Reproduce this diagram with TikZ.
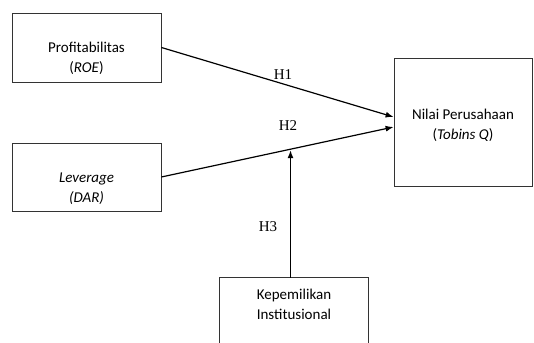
\documentclass[tikz,border=0pt]{standalone}
\usepackage{fontspec}
\setmainfont{Carlito}
\newfontfamily\hfont{Liberation Serif}
\usetikzlibrary{arrows.meta,calc}

\begin{document}
\begin{tikzpicture}[x=1pt, y=1pt,
    box/.style={rectangle, draw=black!80, line width=0.8pt},
    txt/.style={align=center, font=\fontsize{15}{20}\selectfont},
    arrow/.style={-{Latex[length=8pt,width=6pt]}, line width=1.2pt},
    hyp/.style={font=\hfont\fontsize{15}{18}\selectfont}
]
    \useasboundingbox (0,0) rectangle (534,342);
    \clip (0,0) rectangle (534,342);

    % Independent variables
    \node[box, minimum width=149, minimum height=69,
          label={[txt, yshift=-11pt]center:{Profitabilitas\\(\textit{ROE})}}] (prof) at (86.5,294.5) {};
    \node[box, minimum width=149, minimum height=68,
          label={[txt, yshift=-12pt]center:{\textit{Leverage}\\\textit{(DAR)}}}] (lev) at (86.5,165) {};

    % Dependent variable
    \node[box, minimum width=138, minimum height=128,
          label={[txt, yshift=-3pt]center:{Nilai Perusahaan\\(\textit{Tobins Q})}}] (nilai) at (463,220) {};

    % Moderating variable (box runs past the bottom edge)
    \node[txt, minimum width=148, minimum height=52] (kep) at (294,38) {Kepemilikan\\Institusional};
    \draw[box] (kep.north west) rectangle ([yshift=-40pt]kep.south east);

    % Hypothesis arrows
    \draw[arrow] (prof.east) -- ([yshift=5pt]nilai.west);
    \draw[arrow] (lev.east) -- coordinate[pos=0.556] (mod) ([yshift=-5pt]nilai.west);
    \draw[arrow, shorten >=1pt] (mod |- kep.north) -- (mod);

    % Labels
    \node[hyp] (h1) at (283,267) {H1};
    \node[hyp] (h2) at (288,216) {H2};
    \node[hyp] (h3) at (268,115) {H3};
\end{tikzpicture}
\end{document}
